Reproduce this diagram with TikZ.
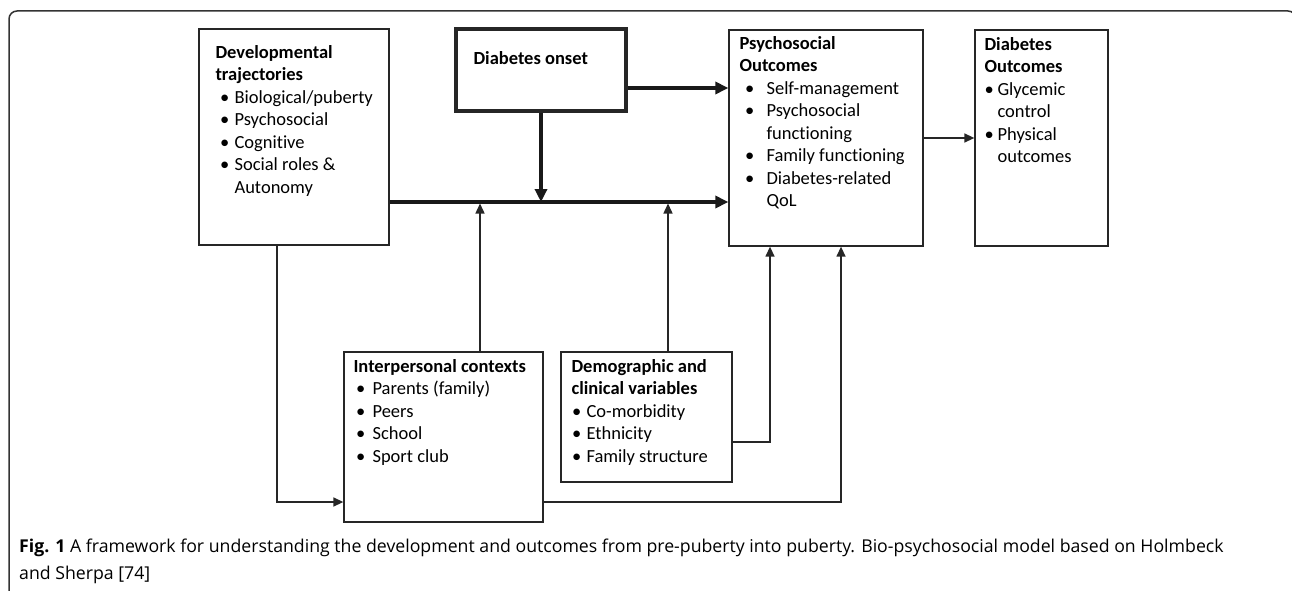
\documentclass[tikz,border=0pt]{standalone}
\usepackage{fontspec}
\setmainfont[Ligatures=NoCommon]{Carlito}
\newfontfamily\capfont{Open Sans}
\usetikzlibrary{arrows.meta,calc}
\newcommand\fs{\fontsize{18.5}{22.5}\selectfont}
\newcommand\bitem[3]{\hspace*{#1pt}\makebox[\dimexpr #2pt - #1pt\relax][l]{\textbullet}#3}
\newcommand\cont[2]{\hspace*{#1pt}#2}
\begin{document}
\begin{tikzpicture}[x=1pt,y=-1pt,
  box/.style={draw=black!85, line width=1.3pt, inner sep=0pt, fill=white},
  txt/.style={font=\fs, align=left, inner sep=0pt, anchor=north west, text=black},
  thinarr/.style={draw=black!85, line width=1.4pt, -{Triangle[length=10pt,width=9pt]}},
  thickarr/.style={draw=black!90, line width=3.3pt, -{Triangle[length=13pt,width=12pt]}}]
\useasboundingbox (0,0) rectangle (1292,591);
% outer frame
\draw[black!80, line width=1.5pt, rounded corners=8pt] (9,600) -- (9,11) -- (1296,11) -- (1296,600);

% boxes
\node[box, minimum width=190pt, minimum height=216pt] (dev) at (294,137) {};
\node[box, line width=3.3pt, minimum width=170pt, minimum height=82pt] (onset) at (541,70) {};
\node[box, minimum width=194pt, minimum height=216pt] (psych) at (826,138) {};
\node[box, minimum width=133pt, minimum height=216pt] (diab) at (1041.5,138) {};
\node[box, minimum width=199pt, minimum height=170pt] (inter) at (443.5,437) {};
\node[box, minimum width=171pt, minimum height=130pt] (demo) at (646.5,417) {};

% texts
\node[txt] (devt) at ([xshift=17pt,yshift=-14pt]dev.north west)
  {\strut\textbf{Developmental}\\
   \textbf{trajectories}\\
   \bitem{4.5}{19}{Biological/puberty}\\
   \bitem{4.5}{19}{Psychosocial}\\
   \bitem{4.5}{19}{Cognitive}\\
   \bitem{4.5}{19}{Social roles \&}\\
   \cont{19}{Autonomy}};
\node[txt] (onsett) at ([xshift=19pt,yshift=-21pt]onset.north west)
  {\strut\textbf{Diabetes onset}};
\node[txt] (psycht) at ([xshift=11pt,yshift=-4pt]psych.north west)
  {\strut\textbf{Psychosocial}\\
   \textbf{Outcomes}\\
   \bitem{5.5}{27}{Self-management}\\
   \bitem{5.5}{27}{Psychosocial}\\
   \cont{27}{functioning}\\
   \bitem{5.5}{27}{Family functioning}\\
   \bitem{5.5}{27}{Diabetes-related}\\
   \cont{27}{QoL}};
\node[txt] (diabt) at ([xshift=10pt,yshift=-5pt]diab.north west)
  {\strut\textbf{Diabetes}\\
   \textbf{Outcomes}\\
   \bitem{0}{13}{Glycemic}\\
   \cont{13}{control}\\
   \bitem{0}{13}{Physical}\\
   \cont{13}{outcomes}};
\node[txt] (intert) at ([xshift=10pt,yshift=-5pt]inter.north west)
  {\strut\textbf{Interpersonal contexts}\\
   \bitem{2.5}{19}{Parents (family)}\\
   \bitem{2.5}{19}{Peers}\\
   \bitem{2.5}{19}{School}\\
   \bitem{2.5}{19}{Sport club}};
\node[txt] (demot) at ([xshift=11pt,yshift=-5pt]demo.north west)
  {\strut\textbf{Demographic and}\\
   \textbf{clinical variables}\\
   \bitem{0.5}{15}{Co-morbidity}\\
   \bitem{0.5}{15}{Ethnicity}\\
   \bitem{0.5}{15}{Family structure}};

% connectors
\coordinate (m) at ([yshift=-65pt]dev.east);
\draw[thickarr] (m) -- (m -| psych.west);
\draw[thickarr] ([yshift=-18pt]onset.east) -- ([yshift=-18pt]onset.east -| psych.west);
\draw[thickarr] (onset.south) -- (onset.south |- m);
\draw[thinarr] ([xshift=36.5pt]inter.north) -- ([xshift=36.5pt,yshift=-1.5pt]inter.north |- m);
\draw[thinarr] ([xshift=21.5pt]demo.north) -- ([xshift=21.5pt,yshift=-1.5pt]demo.north |- m);
\draw[thinarr] ([xshift=-17pt]dev.south) |- ([yshift=-65pt]inter.west);
\draw[thinarr] ([yshift=-65pt]inter.east) -| ([xshift=15pt]psych.south);
\draw[thinarr] ([yshift=-25pt]demo.east) -| ([xshift=-56pt]psych.south);
\draw[thinarr] (psych.east) -- (diab.west);

% caption
\node[anchor=base west, inner sep=0pt, font=\capfont\fontsize{17.7}{26}\selectfont] (cap1) at (19,552)
  {\textbf{Fig. 1} A framework for understanding the development and outcomes from pre-puberty into puberty. Bio-psychosocial model based on Holmbeck};
\node[anchor=base west, inner sep=0pt, font=\capfont\fontsize{17.7}{26}\selectfont] (cap2) at (19,579)
  {and Sherpa [74]};
\end{tikzpicture}
\end{document}
